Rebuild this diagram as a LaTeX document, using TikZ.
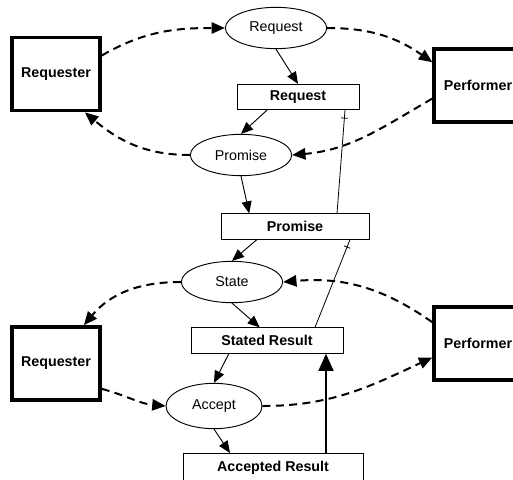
\documentclass[tikz,border=0pt]{standalone}
\usepackage{fontspec}
\setmainfont{Liberation Sans}
\usetikzlibrary{arrows.meta,calc,shapes.geometric,decorations.markings}

\tikzset{
 actor/.style={draw, line width=2.6pt, minimum width=66pt, minimum height=55pt, font=\bfseries},
 act/.style={draw, ellipse, line width=0.7pt, inner sep=0pt, minimum width=76pt, minimum height=31pt},
 fact/.style={draw, line width=0.7pt, inner sep=0pt, minimum height=19pt, font=\bfseries},
 link/.style={-{Triangle[length=9pt,width=7.5pt]}, line width=0.7pt},
 comm/.style={-{Triangle[length=10pt,width=8.5pt]}, line width=1.5pt, dash pattern=on 6pt off 4pt},
 tie/.style={line width=0.6pt, postaction={decorate},
   decoration={markings, mark=at position 6pt with {\draw[line width=0.6pt] (0,-2.5pt) -- (0,2.5pt);}}},
}

\begin{document}
\fontsize{10.7}{12.8}\selectfont
\begin{tikzpicture}[x=0.75pt, y=-0.75pt]
 \clip (0,0) rectangle (513,479);
 % actors
 \node[actor] (req1) at (56,74) {Requester};
 \node[actor] (perf1) at (478,85.5) {Performer};
 \node[actor] (req2) at (56,363.5) {Requester};
 \node[actor] (perf2) at (478,343.5) {Performer};
 % acts
 \node[act] (requestact) at (276,28) {Request};
 \node[act] (promiseact) at (241,155) {Promise};
 \node[act] (stateact) at (232,282) {State};
 \node[act, minimum width=72pt, minimum height=34pt] (acceptact) at (214,406) {Accept};
 % facts
 \node[fact, minimum width=91.5pt] (requestfact) at (298,97) {Request};
 \node[fact, minimum width=111pt] (promisefact) at (295,226.5) {Promise};
 \node[fact, minimum width=114pt] (statedfact) at (267,340.5) {Stated Result};
 \node[fact, minimum width=135pt, anchor=north, text height=7.7pt, text depth=14pt, inner ysep=5.5pt]
   (acceptedfact) at (273,453) {Accepted Result};

 % communication between actors and acts
 \draw[comm] (req1.22) to[out=30,in=180] (requestact.west);
 \draw[comm] (requestact.east) to[out=0,in=145] (perf1.153);
 \draw[comm] (perf1.196) to[out=210,in=5] (promiseact.east);
 \draw[comm] (promiseact.west) to[out=180,in=-40] (req1.-53);
 \draw[comm] (stateact.west) to[out=180,in=50] (req2.54);
 \draw[comm] (perf2.155) to[out=145,in=5] (stateact.east);
 \draw[comm] (req2.-29) to[out=-15,in=175] (acceptact.west);
 \draw[comm] (acceptact.east) to[out=0,in=205] (perf2.197);

 % acts and facts
 \draw[link] (requestact.south) -- (requestfact.north);
 \draw[link] (requestfact.203) -- (promiseact.north);
 \draw[link] (promiseact.south) -- (promisefact.164);
 \draw[link] (promisefact.199) -- (stateact.north);
 \draw[link] (stateact.south) -- (statedfact.119);
 \draw[link] (statedfact.199) -- (acceptact.north);
 \draw[link] (acceptact.south) -- ($(acceptedfact.north)+(-43,0)$);

 \coordinate (chk) at ($(acceptedfact.north)+(53,0)$);
 \draw[-{Triangle[length=13pt,width=11pt]}, line width=2.2pt] (chk) -- (chk |- statedfact.south);

 \draw[tie] ($(requestfact.south)+(47,0)$) -- ($(promisefact.north)+(42,0)$);
 \draw[tie] ($(promisefact.south)+(55,0)$) -- ($(statedfact.north)+(48,0)$);
\end{tikzpicture}
\end{document}
